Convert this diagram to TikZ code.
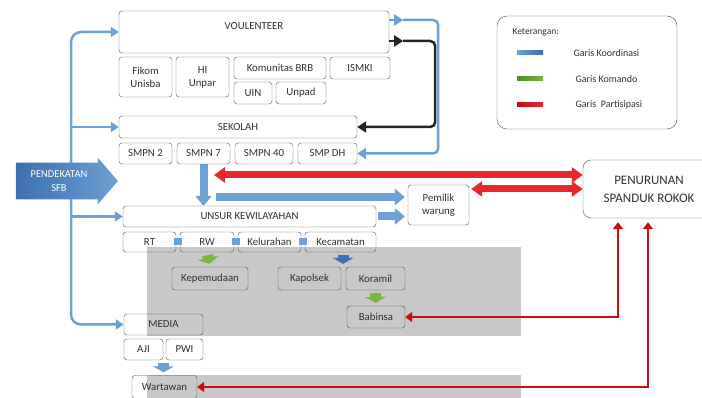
\documentclass[tikz,border=0pt]{standalone}
\usepackage{fontspec}
\setmainfont{Carlito}
\usetikzlibrary{shapes.arrows,arrows.meta}
\definecolor{biru}{RGB}{108,160,214}
\definecolor{birutua}{RGB}{60,112,176}
\definecolor{hijau}{RGB}{122,182,66}
\definecolor{hijautua}{RGB}{80,140,40}
\definecolor{merah}{RGB}{232,40,46}
\definecolor{merahtua}{RGB}{196,14,18}
\definecolor{garis}{RGB}{80,80,80}
\definecolor{teks}{RGB}{48,48,48}
\definecolor{hitam}{RGB}{36,36,36}
\definecolor{abu}{RGB}{200,200,200}

\begin{document}
\begin{tikzpicture}[x=1pt,y=-1pt,
		kotak/.style={draw=garis, rounded corners=3pt, text=teks, align=center, inner sep=0pt,
			font=\fontsize{10.8}{13}\selectfont},
		ket/.style={anchor=west, text=teks, font=\fontsize{10}{12}\selectfont},
		koord/.style={biru, line width=2.5pt, -{Triangle[width=10pt,length=8pt]}},
		balik/.style={line width=2.5pt, rounded corners=5pt, -{Triangle[width=11pt,length=9pt]}},
		ujung/.style={line width=2.5pt, -{Triangle[width=11pt,length=9pt]}},
		blok/.style={biru, line width=8pt, -{Triangle[width=16pt,length=10pt]}},
		turun/.style={line width=11pt, shorten <=3pt, shorten >=3pt, -{Triangle[width=21pt,length=6pt]}},
		merahblok/.style={merah, line width=7pt, {Triangle[width=15pt,length=11pt]}-{Triangle[width=15pt,length=11pt]}},
		partis/.style={merahtua, line width=2.5pt, shorten >=4pt,
			{Triangle[width=10pt,length=7pt]}-{Triangle[width=10pt,length=7pt]}}]
	\useasboundingbox (0,0) rectangle (702,398);
	\fill[abu] (147,247) rectangle (521,336);
	\fill[abu] (147,375) rectangle (521,398);

	% volunteer
	\node[kotak, minimum width=270pt, minimum height=42pt, text height=19pt, text depth=23pt] (vol) at (254,32) {VOULENTEER};
	\node[kotak, minimum width=53pt, minimum height=40pt] (fik) at (145.5,77) {Fikom\\Unisba};
	\node[kotak, minimum width=53pt, minimum height=40pt] (hi) at (202.5,77) {HI\\Unpar};
	\node[kotak, minimum width=92pt, minimum height=22pt] (brb) at (280,68) {Komunitas BRB};
	\node[kotak, minimum width=60pt, minimum height=22pt] (ism) at (360,68) {ISMKI};
	\node[kotak, minimum width=38pt, minimum height=22pt] (uin) at (253,93) {UIN};
	\node[kotak, minimum width=50pt, minimum height=22pt] (unp) at (301,93) {Unpad};

	% sekolah
	\node[kotak, minimum width=238pt, minimum height=22pt] (sek) at (238,127) {SEKOLAH};
	\node[kotak, minimum width=53pt, minimum height=21pt] (smp2) at (145.5,153.5) {SMPN 2};
	\node[kotak, minimum width=53pt, minimum height=21pt] (smp7) at (203.5,153.5) {SMPN 7};
	\node[kotak, minimum width=58pt, minimum height=21pt] (smp40) at (264,153.5) {SMPN 40};
	\node[kotak, minimum width=59pt, minimum height=21pt] (smpdh) at (327.5,153.5) {SMP DH};

	% kewilayahan
	\node[kotak, minimum width=253pt, minimum height=21pt] (uns) at (249.5,216.5) {UNSUR KEWILAYAHAN};
	\node[kotak, minimum width=53pt, minimum height=20pt] (rt) at (149.5,242) {RT};
	\node[kotak, minimum width=54pt, minimum height=20pt] (rw) at (207,242) {RW};
	\node[kotak, minimum width=63pt, minimum height=20pt] (kel) at (269.5,242) {Kelurahan};
	\node[kotak, minimum width=71pt, minimum height=20pt] (kec) at (340.5,242) {Kecamatan};
	\node[kotak, minimum width=76pt, minimum height=23pt] (kep) at (210,278.5) {Kepemudaan};
	\node[kotak, minimum width=63pt, minimum height=23pt] (kap) at (309.5,278.5) {Kapolsek};
	\node[kotak, minimum width=59pt, minimum height=23pt] (kor) at (375.5,278.5) {Koramil};
	\node[kotak, minimum width=58pt, minimum height=22pt] (bab) at (376,317) {Babinsa};

	% media
	\node[kotak, minimum width=79pt, minimum height=21pt] (med) at (163.5,324.5) {MEDIA};
	\node[kotak, minimum width=39pt, minimum height=21pt] (aji) at (143.5,349.5) {AJI};
	\node[kotak, minimum width=37pt, minimum height=21pt] (pwi) at (184.5,349.5) {PWI};
	\node[kotak, minimum width=65pt, minimum height=23pt] (wart) at (164.5,387) {Wartawan};

	\node[kotak, minimum width=61pt, minimum height=40pt] (pem) at (438.5,205) {Pemilik\\warung};
	\node[kotak, rounded corners=8pt, minimum width=132pt, minimum height=58pt,
		font=\fontsize{13}{18}\selectfont] (pen) at (649,189) {PENURUNAN\\SPANDUK ROKOK};

	% keterangan
	\node[draw=garis, rounded corners=10pt, minimum width=180pt, minimum height=113pt] (leg) at (587,72.5) {};
	\node[ket, font=\fontsize{9.5}{11}\selectfont] (judul) at (509,32) {Keterangan:};
	\shade[left color=biru, right color=birutua] (517,51) rectangle (543,55);
	\shade[left color=hijautua, right color=hijau] (517,77) rectangle (543,81);
	\shade[left color=merahtua, right color=merah] (517,103) rectangle (543,107);
	\node[ket] (k1) at (570,53) {Garis Koordinasi};
	\node[ket] (k2) at (572,79) {Garis Komando};
	\node[ket] (k3) at (572,105) {Garis~ Partisipasi};

	% garis koordinasi
	\coordinate (tulang) at (71,181);
	\draw[koord, rounded corners=10pt] (tulang) |- (vol.west);
	\draw[koord] (tulang) |- (sek.west);
	\draw[koord] (tulang) |- (uns.west);
	\draw[koord, rounded corners=10pt] (tulang) |- (med.west);
	\node[single arrow, minimum height=102pt, minimum width=46pt, single arrow head extend=3pt,
		single arrow tip angle=98, left color=birutua, right color=biru, text=white, inner sep=1pt, align=center,
		font=\fontsize{10.5}{14}\selectfont] (pend) at (59,181) {PENDEKATAN\\SFB};

	\coordinate (hitamA) at ([xshift=14pt,yshift=-9pt]vol.east);
	\coordinate (biruA) at ([xshift=14pt,yshift=12pt]vol.east);
	\draw[ujung, hitam] ([yshift=-9pt]vol.east) -- (hitamA);
	\draw[balik, hitam] (hitamA) -- ++(32,0) |- (sek.east);
	\draw[ujung, biru] ([yshift=12pt]vol.east) -- (biruA);
	\draw[balik, biru] (biruA) -- ++(35,0) |- (smpdh.east);

	\draw[blok] (smp7.south) -- (uns.north -| smp7.south);
	\coordinate (kiri) at (216,197);
	\draw[blok, shorten >=3pt] (kiri) -- (kiri -| pem.west);
	\draw[blok, shorten <=2pt, shorten >=3pt] (uns.east) -- (uns.east -| pem.west);
	\foreach \a/\b in {rt/rw, rw/kel, kel/kec}
		\draw[biru, line width=7pt] ([xshift=-2pt]\a.east) -- ([xshift=2pt]\b.west);

	\draw[turun, hijau] (rw.south) -- (kep.north);
	\draw[turun, birutua] ([xshift=2.5pt]kec.south) -- ([xshift=2.5pt]kec.south |- kap.north);
	\draw[turun, hijau] (kor.south) -- (bab.north);
	\draw[turun, biru] (med.south |- aji.south) -- (med.south |- wart.north);

	% garis partisipasi
	\coordinate (mkiri) at (214,175);
	\draw[merahblok] (mkiri) -- (mkiri -| pen.west);
	\draw[merahblok, shorten <=2pt] (pem.east |- pen.west) -- (pen.west);
	\draw[partis] (bab.east) -| ([xshift=-31pt]pen.south);
	\draw[partis] (wart.east) -| ([xshift=-1pt]pen.south);
\end{tikzpicture}
\end{document}
